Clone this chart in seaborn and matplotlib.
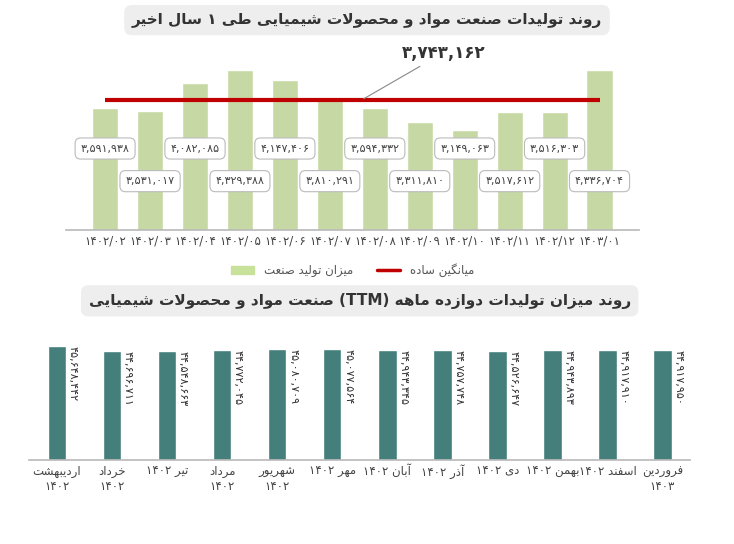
import matplotlib
matplotlib.use("Agg")
import matplotlib.pyplot as plt
import seaborn as sns
import pandas as pd
from matplotlib.lines import Line2D
from matplotlib.patches import Patch

# --- minimal Persian shaping (matplotlib has no RTL/joining support) ---
FORMS = {
    "ا": ("\uFE8D", "\uFE8E"), "آ": ("\uFE81", "\uFE82"),
    "د": ("\uFEA9", "\uFEAA"), "ذ": ("\uFEAB", "\uFEAC"),
    "ر": ("\uFEAD", "\uFEAE"), "ز": ("\uFEAF", "\uFEB0"),
    "و": ("\uFEED", "\uFEEE"),
    "ب": ("\uFE8F", "\uFE90", "\uFE91", "\uFE92"),
    "پ": ("\uFB56", "\uFB57", "\uFB58", "\uFB59"),
    "ت": ("\uFE95", "\uFE96", "\uFE97", "\uFE98"),
    "ج": ("\uFE9D", "\uFE9E", "\uFE9F", "\uFEA0"),
    "ح": ("\uFEA1", "\uFEA2", "\uFEA3", "\uFEA4"),
    "خ": ("\uFEA5", "\uFEA6", "\uFEA7", "\uFEA8"),
    "س": ("\uFEB1", "\uFEB2", "\uFEB3", "\uFEB4"),
    "ش": ("\uFEB5", "\uFEB6", "\uFEB7", "\uFEB8"),
    "ص": ("\uFEB9", "\uFEBA", "\uFEBB", "\uFEBC"),
    "ط": ("\uFEC1", "\uFEC2", "\uFEC3", "\uFEC4"),
    "ع": ("\uFEC9", "\uFECA", "\uFECB", "\uFECC"),
    "ف": ("\uFED1", "\uFED2", "\uFED3", "\uFED4"),
    "ک": ("\uFB8E", "\uFB8F", "\uFB90", "\uFB91"),
    "گ": ("\uFB92", "\uFB93", "\uFB94", "\uFB95"),
    "ل": ("\uFEDD", "\uFEDE", "\uFEDF", "\uFEE0"),
    "م": ("\uFEE1", "\uFEE2", "\uFEE3", "\uFEE4"),
    "ن": ("\uFEE5", "\uFEE6", "\uFEE7", "\uFEE8"),
    "ه": ("\uFEE9", "\uFEEA", "\uFEEB", "\uFEEC"),
    "ی": ("\uFBFC", "\uFBFD", "\uFBFE", "\uFBFF"),
}


def shape_word(w):
    chars = list(w)
    out = []
    i = 0
    while i < len(chars):
        c = chars[i]
        if c not in FORMS:
            out.append(c)
            i += 1
            continue
        prev = chars[i - 1] if i > 0 else None
        pj = prev in FORMS and len(FORMS[prev]) == 4
        if c == "ل" and i + 1 < len(chars) and chars[i + 1] == "ا":
            out.append("\uFEFC" if pj else "\uFEFB")
            i += 2
            continue
        nxt = chars[i + 1] if i + 1 < len(chars) else None
        nj = nxt in FORMS and len(FORMS[c]) == 4
        f = FORMS[c]
        if pj and nj:
            out.append(f[3])
        elif pj:
            out.append(f[1])
        elif nj:
            out.append(f[2])
        else:
            out.append(f[0])
        i += 1
    return "".join(out)


def fa(text):
    lines = []
    for line in text.split("\n"):
        toks = []
        for t in line.split(" "):
            if any(ch in FORMS for ch in t):
                toks.append(shape_word(t)[::-1])
            else:
                toks.append(t)
        lines.append(" ".join(toks[::-1]))
    return "\n".join(lines)


def fa_digits(n):
    s = f"{n:,}"
    return s.translate(str.maketrans("0123456789", "۰۱۲۳۴۵۶۷۸۹"))


# --- data ---
months_top = ["۱۴۰۲/۰۲", "۱۴۰۲/۰۳", "۱۴۰۲/۰۴", "۱۴۰۲/۰۵", "۱۴۰۲/۰۶", "۱۴۰۲/۰۷",
              "۱۴۰۲/۰۸", "۱۴۰۲/۰۹", "۱۴۰۲/۱۰", "۱۴۰۲/۱۱", "۱۴۰۲/۱۲", "۱۴۰۳/۰۱"]
production = [3591938, 3531017, 4082085, 4329388, 4147406, 3810291,
              3594332, 3311810, 3149063, 3517612, 3516303, 4336704]
average = 3743162

months_ttm = ["اردیبهشت\n۱۴۰۲", "خرداد\n۱۴۰۲", "تیر ۱۴۰۲", "مرداد\n۱۴۰۲",
              "شهریور\n۱۴۰۲", "مهر ۱۴۰۲", "آبان ۱۴۰۲", "آذر ۱۴۰۲", "دی ۱۴۰۲",
              "بهمن ۱۴۰۲", "اسفند ۱۴۰۲", "فروردین\n۱۴۰۳"]
ttm = [45648442, 44696711, 44548663, 44772045, 45080709, 45077564,
       44943345, 44757748, 44526647, 44943893, 44917910, 44917950]

GREEN = "#c9e29b"
TEAL = "#3a8985"
RED = "#c00000"

sns.set_theme(style="white")
plt.rcParams["font.family"] = ["DejaVu Sans"]

fig = plt.figure(figsize=(7.34, 5.44), dpi=100)
ax1 = fig.add_axes([0.09, 0.577, 0.78, 0.30])
ax2 = fig.add_axes([0.04, 0.155, 0.90, 0.215])

# top chart
df1 = pd.DataFrame({"month": months_top, "value": production})
sns.barplot(data=df1, x="month", y="value", color=GREEN, width=0.58, ax=ax1)
ax1.set_ylim(1.18e6, 4.40e6)
ax1.plot([0, len(production) - 1], [average, average], color=RED, lw=3,
         solid_capstyle="butt")
ax1.annotate(fa_digits(average), xy=(5.7, average), xytext=(6.6, 4.68e6),
             fontsize=12, ha="left", va="center", fontweight="bold", color="#333333",
             arrowprops=dict(arrowstyle="-", color="#888888", lw=0.8),
             annotation_clip=False)
for i, v in enumerate(production):
    yfrac = 0.50 if i % 2 == 0 else 0.30
    ax1.text(i, yfrac, fa_digits(v), transform=ax1.get_xaxis_transform(),
             ha="center", va="center", fontsize=8, color="#444444",
             bbox=dict(boxstyle="round,pad=0.5", fc="white", ec="#bbbbbb", lw=0.8))
ax1.set_xlabel("")
ax1.set_ylabel("")
ax1.set_yticks([])
ax1.tick_params(axis="x", labelsize=8.5, colors="#444444", length=0)
sns.despine(ax=ax1, left=True)
ax1.spines["bottom"].set_color("#bbbbbb")
ax1.legend(handles=[Patch(color=GREEN, label=fa("میزان تولید صنعت")),
                    Line2D([], [], color=RED, lw=2.5, label=fa("میانگین ساده"))],
           loc="upper center", bbox_to_anchor=(0.5, -0.14), ncol=2, frameon=False,
           fontsize=8.5, labelcolor="#555555")

# bottom chart
df2 = pd.DataFrame({"month": [fa(m) for m in months_ttm], "value": ttm})
sns.barplot(data=df2, x="month", y="value", color=TEAL, width=0.34, ax=ax2)
ax2.set_ylim(20e6, 46.5e6)
for i, v in enumerate(ttm):
    ax2.text(i + 0.2, v, fa_digits(v), rotation=-90, ha="left", va="top",
             fontsize=8, color="#333333")
ax2.set_xlabel("")
ax2.set_ylabel("")
ax2.set_yticks([])
ax2.tick_params(axis="x", labelsize=8.5, colors="#444444", length=0)
sns.despine(ax=ax2, left=True)
ax2.spines["bottom"].set_color("#bbbbbb")

# titles
box = dict(boxstyle="round,pad=0.5", fc="#eeeeee", ec="none")
fig.text(0.5, 0.963, fa("روند تولیدات صنعت مواد و محصولات شیمیایی طی ۱ سال اخیر"),
         ha="center", va="center", fontsize=11, fontweight="bold", color="#333333", bbox=box)
fig.text(0.49, 0.447, fa("روند میزان تولیدات دوازده ماهه (TTM) صنعت مواد و محصولات شیمیایی"),
         ha="center", va="center", fontsize=11, fontweight="bold", color="#333333", bbox=box)

fig.savefig("out.png", dpi=100, facecolor="white")
